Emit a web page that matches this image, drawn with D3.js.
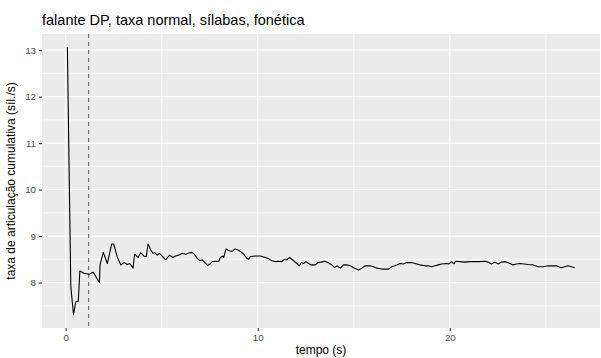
<!DOCTYPE html>
<html>
<head>
<meta charset="utf-8">
<script src="https://cdn.jsdelivr.net/npm/d3@7"></script>
<style>
  html, body { margin: 0; padding: 0; background: #ffffff; }
  svg { display: block; }
  text { font-family: "Liberation Sans", Arial, Helvetica, sans-serif; }
</style>
</head>
<body>
<script>
// Cumulative articulation rate over time (syllables per second)
const time = [
  0.09, 0.27, 0.41, 0.53, 0.66, 0.74, 0.96, 1.22, 1.44, 1.60,
  1.76, 1.79, 1.96, 2.17, 2.40, 2.50, 2.69, 2.87, 3.04, 3.21,
  3.34, 3.51, 3.59, 3.77, 3.91, 4.11, 4.20, 4.29, 4.43, 4.55,
  4.65, 4.77, 4.89, 5.03, 5.21, 5.41, 5.58, 5.72, 5.90, 6.07,
  6.24, 6.38, 6.56, 6.68, 6.85, 6.99, 7.11, 7.25, 7.40, 7.54,
  7.63, 7.83, 7.97, 8.06, 8.18, 8.23, 8.35, 8.49, 8.66, 8.81,
  8.98, 9.10, 9.27, 9.44, 9.53, 9.62, 9.88, 10.14, 10.40, 10.57,
  10.74, 10.92, 11.09, 11.26, 11.35, 11.52, 11.66, 11.87, 12.04, 12.17,
  12.27, 12.39, 12.51, 12.65, 12.79, 13.00, 13.13, 13.31, 13.48, 13.65,
  13.83, 14.00, 14.12, 14.30, 14.47, 14.64, 14.82, 14.99, 15.25, 15.42,
  15.60, 15.85, 16.03, 16.20, 16.46, 16.81, 16.98, 17.24, 17.41, 17.58,
  17.76, 18.02, 18.19, 18.45, 18.71, 18.88, 19.05, 19.23, 19.40, 19.57,
  19.83, 19.96, 20.09, 20.22, 20.30, 20.53, 20.79, 21.05, 21.31, 21.57,
  21.83, 22.00, 22.17, 22.35, 22.52, 22.69, 22.90, 23.13, 23.30, 23.47,
  23.65, 23.87, 24.08, 24.34, 24.60, 24.86, 25.12, 25.38, 25.55, 25.67,
  25.81, 25.98, 26.16, 26.33, 26.50
];
const rate = [
  13.06, 7.91, 7.31, 7.59, 7.60, 8.25, 8.20, 8.18, 8.22, 8.11,
  8.00, 8.38, 8.65, 8.41, 8.83, 8.83, 8.55, 8.38, 8.43, 8.39,
  8.41, 8.31, 8.61, 8.54, 8.64, 8.56, 8.56, 8.83, 8.70, 8.63,
  8.64, 8.59, 8.63, 8.57, 8.49, 8.59, 8.54, 8.57, 8.59, 8.63,
  8.61, 8.63, 8.65, 8.62, 8.52, 8.47, 8.49, 8.43, 8.37, 8.41,
  8.45, 8.46, 8.46, 8.54, 8.57, 8.54, 8.72, 8.69, 8.67, 8.72,
  8.70, 8.67, 8.61, 8.52, 8.50, 8.56, 8.57, 8.57, 8.54, 8.51,
  8.47, 8.45, 8.46, 8.45, 8.49, 8.49, 8.54, 8.47, 8.41, 8.36,
  8.43, 8.41, 8.45, 8.41, 8.38, 8.38, 8.43, 8.44, 8.46, 8.43,
  8.39, 8.32, 8.36, 8.31, 8.38, 8.38, 8.36, 8.32, 8.27, 8.31,
  8.36, 8.36, 8.34, 8.31, 8.29, 8.29, 8.34, 8.38, 8.41, 8.40,
  8.43, 8.43, 8.41, 8.38, 8.36, 8.36, 8.34, 8.36, 8.38, 8.40,
  8.41, 8.40, 8.45, 8.40, 8.46, 8.45, 8.44, 8.45, 8.45, 8.45,
  8.46, 8.44, 8.40, 8.44, 8.40, 8.44, 8.45, 8.41, 8.38, 8.40,
  8.41, 8.40, 8.39, 8.38, 8.34, 8.34, 8.36, 8.36, 8.36, 8.34,
  8.32, 8.34, 8.36, 8.34, 8.32
];
// Reference mark: vertical dashed line
const markerTime = [1.2];

const xTicks = [0, 10, 20];
const xMinor = [5, 15, 25];
const yTicks = [8, 9, 10, 11, 12, 13];
const yMinor = [7.5, 8.5, 9.5, 10.5, 11.5, 12.5];

const titleText = "falante DP, taxa normal, sílabas, fonética";
const xTitle = "tempo (s)";
const yTitle = "taxa de articulação cumulativa (síl./s)";

const W = 601, H = 358;
const panel = { left: 42, top: 34, right: 600, bottom: 328 };

const data = time.map((t, i) => ({ t, v: rate[i] }));

// ggplot-style 5% expansion of the data range
function expand(ext) {
  const r = ext[1] - ext[0];
  return [ext[0] - 0.05 * r, ext[1] + 0.05 * r];
}

const x = d3.scaleLinear().domain(expand(d3.extent(time))).range([panel.left, panel.right]);
const y = d3.scaleLinear().domain(expand(d3.extent(rate))).range([panel.bottom, panel.top]);

const svg = d3.select("body").append("svg").attr("width", W).attr("height", H);

svg.append("rect").attr("width", W).attr("height", H).attr("fill", "#ffffff");

// Panel background
svg.append("rect")
  .attr("x", panel.left).attr("y", panel.top)
  .attr("width", panel.right - panel.left).attr("height", panel.bottom - panel.top)
  .attr("fill", "#ebebeb");

const grid = svg.append("g");
// Minor grid
grid.selectAll("line.ymin").data(yMinor).join("line")
  .attr("x1", panel.left).attr("x2", panel.right)
  .attr("y1", d => y(d)).attr("y2", d => y(d))
  .attr("stroke", "#ffffff").attr("stroke-width", 0.6);
grid.selectAll("line.xmin").data(xMinor).join("line")
  .attr("y1", panel.top).attr("y2", panel.bottom)
  .attr("x1", d => x(d)).attr("x2", d => x(d))
  .attr("stroke", "#ffffff").attr("stroke-width", 0.6);
// Major grid
grid.selectAll("line.ymaj").data(yTicks).join("line")
  .attr("x1", panel.left).attr("x2", panel.right)
  .attr("y1", d => y(d)).attr("y2", d => y(d))
  .attr("stroke", "#ffffff").attr("stroke-width", 1.2);
grid.selectAll("line.xmaj").data(xTicks).join("line")
  .attr("y1", panel.top).attr("y2", panel.bottom)
  .attr("x1", d => x(d)).attr("x2", d => x(d))
  .attr("stroke", "#ffffff").attr("stroke-width", 1.2);

// Dashed marker
svg.selectAll("line.marker").data(markerTime).join("line")
  .attr("x1", d => x(d)).attr("x2", d => x(d))
  .attr("y1", panel.top).attr("y2", panel.bottom)
  .attr("stroke", "#666666").attr("stroke-width", 1.1)
  .attr("stroke-dasharray", "4,4");

// Rate curve
const line = d3.line().x(d => x(d.t)).y(d => y(d.v));
svg.append("path").datum(data)
  .attr("d", line)
  .attr("fill", "none")
  .attr("stroke", "#000000")
  .attr("stroke-width", 1.1)
  .attr("stroke-linejoin", "round");

// Axes
const xAxis = d3.axisBottom(x).tickValues(xTicks).tickSize(3).tickPadding(3).tickFormat(d3.format("d"));
const yAxis = d3.axisLeft(y).tickValues(yTicks).tickSize(3).tickPadding(3).tickFormat(d3.format("d"));

const gx = svg.append("g").attr("transform", `translate(0,${panel.bottom})`).call(xAxis);
const gy = svg.append("g").attr("transform", `translate(${panel.left},0)`).call(yAxis);
[gx, gy].forEach(g => {
  g.select(".domain").remove();
  g.selectAll(".tick line").attr("stroke", "#333333").attr("stroke-width", 1.1);
  g.selectAll(".tick text").attr("fill", "#4d4d4d").style("font-size", "9.7px")
    .style("font-family", '"Liberation Sans", Arial, Helvetica, sans-serif');
});

// Titles
svg.append("text")
  .attr("x", panel.left).attr("y", 25)
  .attr("fill", "#000000").style("font-size", "14.5px")
  .text(titleText);

svg.append("text")
  .attr("x", (panel.left + panel.right) / 2).attr("y", 354)
  .attr("text-anchor", "middle")
  .attr("fill", "#000000").style("font-size", "12px")
  .text(xTitle);

svg.append("text")
  .attr("transform", `translate(15,${(panel.top + panel.bottom) / 2}) rotate(-90)`)
  .attr("text-anchor", "middle")
  .attr("fill", "#000000").style("font-size", "12px")
  .text(yTitle);
</script>
</body>
</html>
